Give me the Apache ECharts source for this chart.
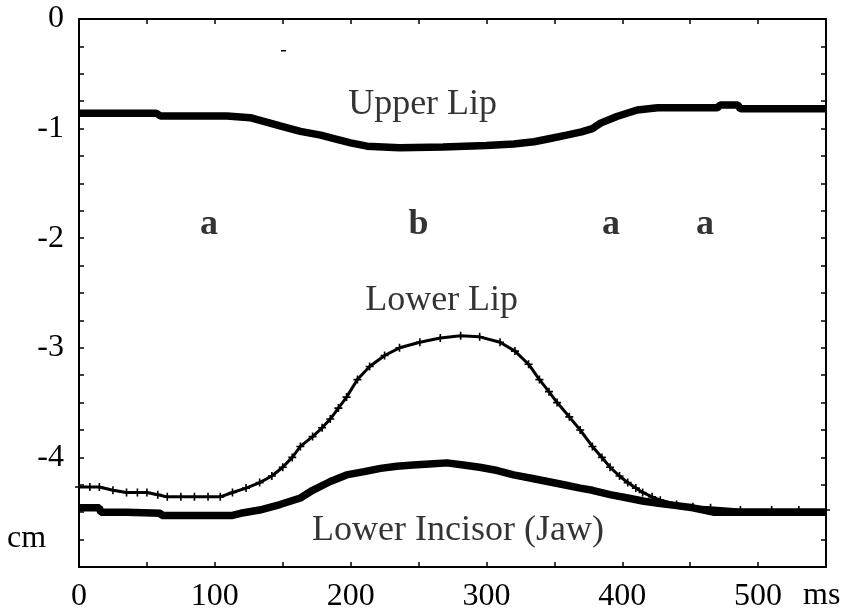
<!DOCTYPE html>
<html>
<head>
<meta charset="utf-8">
<script src="https://cdn.jsdelivr.net/npm/echarts@6/dist/echarts.min.js"></script>
<style>
html,body{margin:0;padding:0;background:#fff;}
#c{width:848px;height:612px;}
</style>
</head>
<body>
<div id="c"></div>
<script>
// ---- data (ms, cm) ----
const upperLipMs = [0, 57, 60, 109, 126, 148, 163, 178, 187, 200, 212, 236, 268, 300, 320, 335, 347, 359, 370, 378, 384, 396, 411, 426, 470, 472, 485, 487, 550];
const upperLipCm = [-0.86, -0.86, -0.885, -0.885, -0.90, -0.976, -1.025, -1.06, -1.09, -1.13, -1.16, -1.175, -1.168, -1.155, -1.14, -1.12, -1.09, -1.06, -1.03, -1.0, -0.95, -0.89, -0.83, -0.81, -0.81, -0.785, -0.785, -0.82, -0.82];

const lowerLipMs = [0, 8, 15, 25, 35, 43, 50, 58, 65, 75, 85, 95, 104, 113, 123, 133, 142, 150, 157, 163, 172, 179, 185, 191, 197, 205, 214, 225, 236, 251, 266, 281, 295, 310, 321, 331, 339, 346, 352, 361, 369, 378, 385, 391, 398, 404, 410, 415, 422, 428, 440, 452, 465, 487, 510, 530, 550];
const lowerLipCm = [-4.27, -4.27, -4.27, -4.30, -4.32, -4.32, -4.32, -4.34, -4.36, -4.36, -4.36, -4.36, -4.36, -4.32, -4.28, -4.23, -4.17, -4.09, -4.00, -3.90, -3.81, -3.73, -3.65, -3.55, -3.45, -3.29, -3.17, -3.07, -3.00, -2.95, -2.91, -2.89, -2.90, -2.95, -3.03, -3.15, -3.29, -3.40, -3.50, -3.63, -3.75, -3.90, -4.00, -4.09, -4.17, -4.23, -4.28, -4.32, -4.36, -4.39, -4.43, -4.45, -4.46, -4.48, -4.48, -4.48, -4.48];

const jawMs = [0, 15, 16, 35, 36, 60, 61, 113, 119, 133, 148, 163, 172, 185, 197, 210, 222, 234, 246, 258, 271, 283, 295, 308, 320, 333, 345, 357, 369, 378, 391, 404, 416, 428, 440, 452, 467, 500, 550];
const jawCm = [-4.46, -4.46, -4.50, -4.50, -4.51, -4.51, -4.53, -4.53, -4.51, -4.48, -4.43, -4.37, -4.30, -4.22, -4.16, -4.13, -4.10, -4.08, -4.07, -4.06, -4.05, -4.07, -4.09, -4.12, -4.16, -4.19, -4.22, -4.25, -4.28, -4.30, -4.34, -4.37, -4.40, -4.42, -4.44, -4.46, -4.50, -4.50, -4.50];

// annotations (text, ms, cm)
const noteText = ['Upper Lip', 'Lower Lip', 'Lower Incisor (Jaw)'];
const noteMs = [253, 267, 279];
const noteCm = [-0.78, -2.57, -4.67];
const letterText = ['a', 'b', 'a', 'a'];
const letterMs = [95.7, 250, 391.7, 461];
const letterCm = [-1.88, -1.88, -1.88, -1.88];

// axis ticks
const xTickLabels = [0, 100, 200, 300, 400, 500];
const yTickLabels = [0, -1, -2, -3, -4];

const pairs = (xs, ys) => xs.map((x, i) => [x, ys[i]]);
const FONT = 'Liberation Serif';
const plus = 'path://M4,0h2v4h4v2h-4v4h-2v-4h-4v-2h4z';

const chart = echarts.init(document.getElementById('c'), null, {renderer: 'canvas'});
const axisLine = {show: true, onZero: false, lineStyle: {color: '#000', width: 2}};
chart.setOption({
  animation: false,
  backgroundColor: '#fff',
  grid: {left: 79, top: 19, right: 22, bottom: 45, containLabel: false, outerBoundsMode: 'none'},
  xAxis: [{
    type: 'value', min: 0, max: 550, interval: 50, position: 'bottom',
    axisLine: axisLine,
    axisTick: {show: true, inside: true, length: 5, lineStyle: {color: '#000', width: 1.5}},
    splitLine: {show: false},
    axisLabel: {
      margin: 14, color: '#000', fontFamily: FONT, fontSize: 32,
      formatter: v => xTickLabels.indexOf(v) >= 0 ? String(v) : ''
    }
  }, {
    type: 'value', min: 0, max: 550, interval: 50, position: 'top',
    axisLine: axisLine,
    axisTick: {show: true, inside: true, length: 5, lineStyle: {color: '#000', width: 1.5}},
    splitLine: {show: false}, axisLabel: {show: false}
  }],
  yAxis: [{
    type: 'value', min: -5, max: 0, interval: 1, position: 'left',
    axisLine: axisLine,
    axisTick: {show: true, inside: true, length: 5, lineStyle: {color: '#000', width: 1.5}},
    minorTick: {show: true, splitNumber: 4, length: 5, lineStyle: {color: '#000', width: 1.5}},
    splitLine: {show: false}, minorSplitLine: {show: false},
    axisLabel: {
      margin: 15, color: '#000', fontFamily: FONT, fontSize: 32,
      formatter: v => yTickLabels.indexOf(v) >= 0 ? String(v) : ''
    }
  }, {
    type: 'value', min: -5, max: 0, interval: 1, position: 'right',
    axisLine: axisLine,
    axisTick: {show: true, inside: true, length: 5, lineStyle: {color: '#000', width: 1.5}},
    minorTick: {show: true, splitNumber: 4, length: 5, lineStyle: {color: '#000', width: 1.5}},
    splitLine: {show: false}, minorSplitLine: {show: false},
    axisLabel: {show: false}
  }],
  series: [{
    name: 'Upper Lip', type: 'line', data: pairs(upperLipMs, upperLipCm),
    showSymbol: false, symbol: 'none', lineStyle: {color: '#000', width: 7.5}, z: 3
  }, {
    name: 'Lower Lip', type: 'line', data: pairs(lowerLipMs, lowerLipCm),
    symbol: plus, symbolSize: 8, showSymbol: true,
    itemStyle: {color: '#000'}, lineStyle: {color: '#000', width: 3}, z: 4
  }, {
    name: 'Lower Incisor (Jaw)', type: 'line', data: pairs(jawMs, jawCm),
    showSymbol: false, symbol: 'none', lineStyle: {color: '#000', width: 7.5}, z: 3
  }, {
    name: 'notes', type: 'scatter', symbolSize: 0, silent: true,
    data: noteText.map((t, i) => ({name: t, value: [noteMs[i], noteCm[i]]})),
    label: {show: true, position: 'inside', formatter: p => p.name,
      color: '#000', fontFamily: FONT, fontSize: 36}
  }, {
    name: 'letters', type: 'scatter', symbolSize: 0, silent: true,
    data: letterText.map((t, i) => ({name: t, value: [letterMs[i], letterCm[i]]})),
    label: {show: true, position: 'inside', formatter: p => p.name,
      color: '#000', fontFamily: FONT, fontSize: 36, fontWeight: 'bold'}
  }],
  graphic: [
    {type: 'text', left: 7, top: 523, style: {text: 'cm', fill: '#000', font: '32px "Liberation Serif"'}},
    {type: 'text', left: 803, top: 580, style: {text: 'ms', fill: '#000', font: '32px "Liberation Serif"'}},
    {type: 'rect', shape: {x: 281, y: 50, width: 5, height: 1.5}, style: {fill: '#000'}}
  ]
});
</script>
</body>
</html>
